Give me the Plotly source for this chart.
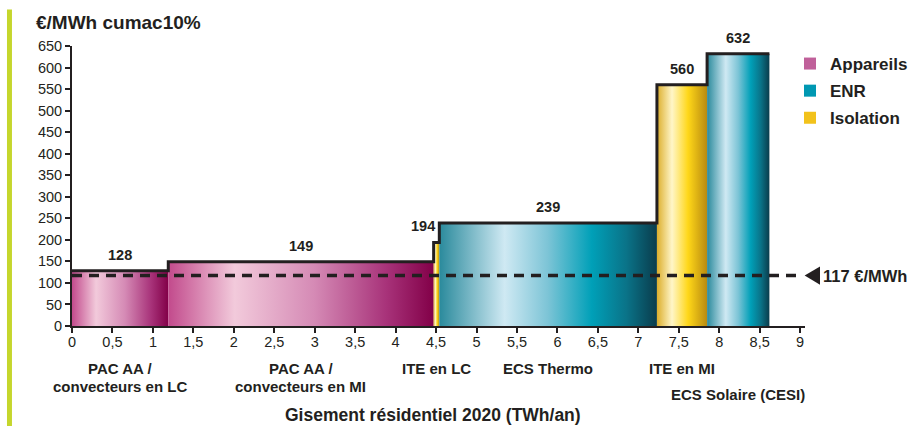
import numpy as np
import plotly.graph_objects as go

# ---------------- data ----------------
categories = ["PAC AA /<br>convecteurs en LC", "PAC AA /<br>convecteurs en MI", "ITE en LC",
              "ECS Thermo", "ITE en MI", "ECS Solaire (CESI)"]
widths = [1.19, 3.28, 0.07, 2.69, 0.62, 0.77]          # TWh/an
costs = [128, 149, 194, 239, 560, 632]                 # €/MWh cumac
families = ["Appareils", "Appareils", "Isolation", "ENR", "Isolation", "ENR"]
reference_value = 117
reference_label = "117 €/MWh"
legend_names = ["Appareils", "ENR", "Isolation"]
x_tickvals = [0, 0.5, 1, 1.5, 2, 2.5, 3, 3.5, 4, 4.5, 5, 5.5, 6, 6.5, 7, 7.5, 8, 8.5, 9]
x_ticktext = ["0", "0,5", "1", "1,5", "2", "2,5", "3", "3,5", "4", "4,5", "5", "5,5", "6",
              "6,5", "7", "7,5", "8", "8,5", "9"]
y_tickvals = list(range(0, 651, 50))

# ---------------- styles ----------------
FONT = "Liberation Sans, Arial, Helvetica, sans-serif"
INK = "#231f20"
gradients = {
    "Appareils": [[0, "#c24a8c"], [0.25, "#f2cadb"], [0.55, "#d58ab5"], [0.82, "#a8337a"], [1, "#820048"]],
    "ENR": [[0, "#2a8a9c"], [0.3, "#cfe9f3"], [0.5, "#7cc4d6"], [0.7, "#00a0b8"], [0.86, "#0a7388"], [1, "#0a3c4c"]],
    "Isolation": [[0, "#dcae2c"], [0.3, "#fff6c8"], [0.62, "#ffd718"], [1, "#b88a10"]],
}
legend_colors = {"Appareils": "#c0609a", "ENR": "#0098b2", "Isolation": "#f2c21b"}

PLOT_H = 280  # px, used to convert pixel offsets into paper units


def py(pixel_y):
    """pixel row of the 426 px page -> paper y"""
    return (326 - pixel_y) / PLOT_H


lefts = np.concatenate([[0], np.cumsum(widths)[:-1]])
rights = np.cumsum(widths)

fig = go.Figure()

# bars as filled polygons with horizontal gradient
for x0, x1, h, fam in zip(lefts, rights, costs, families):
    fig.add_trace(go.Scatter(
        x=[x0, x0, x1, x1, x0], y=[0, h, h, 0, 0],
        mode="lines", line=dict(width=0), fill="toself",
        fillgradient=dict(type="horizontal", colorscale=gradients[fam]),
        hoverinfo="skip", showlegend=False))

# step outline
sx, sy = [], []
for x0, x1, h in zip(lefts, rights, costs):
    sx += [x0, x1]
    sy += [h, h]
fig.add_trace(go.Scatter(x=sx, y=sy, mode="lines", line=dict(color=INK, width=3),
                         hoverinfo="skip", showlegend=False, cliponaxis=False))

# reference dashed line
fig.add_trace(go.Scatter(x=[0, 9.02], y=[reference_value, reference_value], mode="lines",
                         line=dict(color=INK, width=3.5, dash="10px,7px"),
                         hoverinfo="skip", showlegend=False, cliponaxis=False))

# legend entries
for i, name in enumerate(legend_names):
    fig.add_trace(go.Scatter(x=[None], y=[None], mode="markers", name=name,
                             legendgroup=name,
                             marker=dict(symbol="square", size=14, color=legend_colors[name])))

annotations = []
# value labels
for x0, x1, h in zip(lefts, rights, costs):
    if x1 - x0 < 0.2:
        annotations.append(dict(x=x0, y=h, text=str(h), showarrow=False, xanchor="right",
                                yanchor="bottom", yshift=6, xshift=3,
                                font=dict(family=FONT, size=14.5, color=INK, weight="bold")))
    else:
        annotations.append(dict(x=(x0 + x1) / 2, y=h, text=str(h), showarrow=False,
                                yanchor="bottom", yshift=6,
                                font=dict(family=FONT, size=14.5, color=INK, weight="bold")))

# category labels (each line placed separately for tight line spacing)
for i, (x0, x1, cat) in enumerate(zip(lefts, rights, categories)):
    lines = cat.split("<br>")
    first_row = 394 if i == 5 else 368
    for k, line in enumerate(lines):
        annotations.append(dict(x=(x0 + x1) / 2, y=py(first_row + 18 * k), yref="paper",
                                text=line, showarrow=False, yanchor="middle", xanchor="center",
                                font=dict(family=FONT, size=15, color=INK, weight="bold")))

# reference label (paper x, data y)
annotations.append(dict(x=1.022, xref="paper", y=reference_value, text=reference_label,
                        showarrow=False, xanchor="left", yanchor="middle",
                        font=dict(family=FONT, size=16.5, color=INK, weight="bold")))
# y title
annotations.append(dict(x=-0.052, y=py(22), xref="paper", yref="paper", text="€/MWh cumac10%",
                        showarrow=False, xanchor="left", yanchor="middle",
                        font=dict(family=FONT, size=19, color=INK, weight="bold")))
# x title
annotations.append(dict(x=0.4925, y=py(415), xref="paper", yref="paper",
                        text="Gisement résidentiel 2020 (TWh/an)", showarrow=False,
                        xanchor="center", yanchor="middle",
                        font=dict(family=FONT, size=17.5, color=INK, weight="bold")))

# arrow head of reference line (paper x, data y)
ax_tip, ax_base, half = 0.9995, 1.0205, 21
arrow_path = (f"M {ax_tip},{reference_value} L {ax_base},{reference_value + half} "
              f"L {ax_base},{reference_value - half} Z")

fig.update_layout(
    width=915, height=426,
    margin=dict(l=72, r=110, t=46, b=100, autoexpand=False),
    paper_bgcolor="white", plot_bgcolor="white",
    showlegend=True,
    legend=dict(x=0.9795, y=1.0, xanchor="left", yanchor="top", bgcolor="rgba(0,0,0,0)",
                font=dict(family=FONT, size=17, color=INK, weight="bold"),
                tracegroupgap=2, itemsizing="constant"),
    annotations=annotations,
    shapes=[
        dict(type="rect", xref="paper", yref="paper", x0=-0.0887, x1=-0.0819,
             y0=-0.36, y1=1.13, fillcolor="#c5d62c", line=dict(width=0), layer="above"),
        dict(type="path", xref="paper", yref="y", path=arrow_path, fillcolor=INK,
             line=dict(width=0), layer="above"),
    ],
    xaxis=dict(range=[0, 9.06], tickvals=x_tickvals, ticktext=x_ticktext, showgrid=False,
               zeroline=False, showline=True, linecolor=INK, linewidth=2,
               ticks="outside", ticklen=5, tickwidth=1.5, tickcolor=INK,
               ticklabelstandoff=-3,
               tickfont=dict(family=FONT, size=14.5, color=INK)),
    yaxis=dict(range=[0, 650], tickvals=y_tickvals, showgrid=False, zeroline=False,
               showline=True, linecolor=INK, linewidth=2,
               ticks="outside", ticklen=5, tickwidth=1.5, tickcolor=INK,
               tickfont=dict(family=FONT, size=14.5, color=INK)),
)

fig.write_html("out.html", config={"displayModeBar": False},
               post_script="document.body.style.margin='0';")
